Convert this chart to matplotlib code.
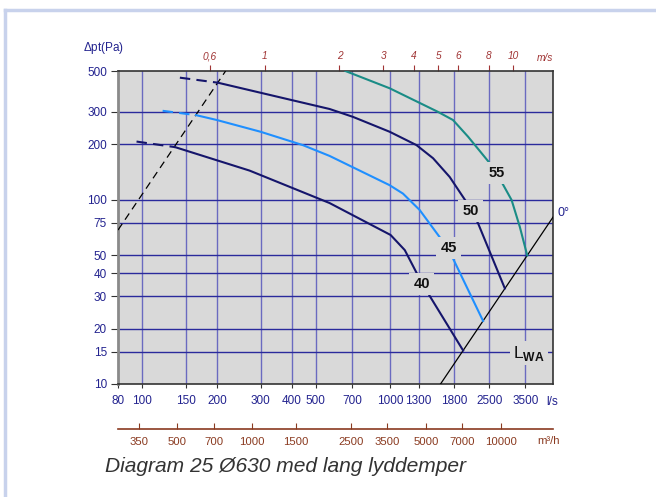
import matplotlib
matplotlib.use("Agg")
import matplotlib.pyplot as plt
from matplotlib.lines import Line2D
from matplotlib.ticker import FixedLocator, NullLocator, FixedFormatter

plt.rcParams['font.family'] = ['Liberation Sans', 'DejaVu Sans']
plt.rcParams['mathtext.fontset'] = 'custom'
plt.rcParams['mathtext.rm'] = 'Liberation Sans'
plt.rcParams['mathtext.bf'] = 'Liberation Sans:bold'

# --- data ---
# luftmengde l/s, trykkfall Pa
q40_dash = [95, 136]
dp40_dash = [207, 193]
q40 = [136, 271, 569, 1002, 1143, 1274, 1439, 1963]
dp40 = [193, 144, 96, 64.4, 53.3, 40.2, 30.1, 15.2]

q45_dash = [121, 165]
dp45_dash = [304, 288]
q45 = [165, 200, 300, 444, 569, 993, 1124, 1312, 1582, 1787, 2362]
dp45 = [288, 271, 234, 198, 173, 120, 108, 88, 62.5, 48, 22]

q50_dash = [142, 202]
dp50_dash = [460, 432]
q50 = [202, 300, 569, 706, 993, 1274, 1486, 1733, 2006, 2255, 2891]
dp50 = [432, 381, 311, 282, 234, 198, 168, 133, 99, 74.5, 33]

q55 = [659, 993, 1555, 1787, 2055, 2513, 2832, 3077, 3320, 3557]
dp55 = [500, 403, 300, 271, 220, 158, 122, 99.7, 71.4, 49.9]

q_sys = [80, 217]
dp_sys = [68.5, 500]
q_lwa = [1592, 4530]
dp_lwa = [10, 80.9]

x_ticks = [80, 100, 150, 200, 300, 400, 500, 700, 1000, 1300, 1800, 2500, 3500]
y_ticks = [10, 15, 20, 30, 40, 50, 75, 100, 200, 300, 500]
v_ticks = [0.6, 1, 2, 3, 4, 5, 6, 8, 10]
v_labels = ['0,6', '1', '2', '3', '4', '5', '6', '8', '10']
m3h_ticks = [350, 500, 700, 1000, 1500, 2500, 3500, 5000, 7000, 10000]

labels = ['40', '45', '50', '55']
label_q = [1337, 1718, 2108, 2684]
label_dp = [34.9, 54.7, 86.9, 139.7]

area = 3.14159 * 0.315 ** 2  # Ø630 kanal, m2

navy = '#15156b'
lblue = '#1f8fff'
teal = '#1a8c86'
tick_blue = '#23238f'
red = '#a03434'
brown = '#8a3a20'
bg = '#d9d9d9'

fig = plt.figure(figsize=(6.56, 4.97), dpi=100)
ax = fig.add_axes([118 / 656, 1 - 384 / 497, (553.3 - 118) / 656, (384 - 71) / 497])
ax.set_facecolor(bg)
ax.set_xscale('log')
ax.set_yscale('log')
ax.set_xlim(80, 4530)
ax.set_ylim(10, 500)

# rutenett
for x in x_ticks[1:]:
    ax.axvline(x, color='#6a6ac0', lw=1.0, zorder=1)
for y in y_ticks[1:-1]:
    ax.axhline(y, color='#2a2a9c', lw=1.0, zorder=1)

ax.xaxis.set_major_locator(FixedLocator(x_ticks))
ax.xaxis.set_major_formatter(FixedFormatter([str(v) for v in x_ticks]))
ax.xaxis.set_minor_locator(NullLocator())
ax.yaxis.set_major_locator(FixedLocator(y_ticks))
ax.yaxis.set_major_formatter(FixedFormatter([str(v) for v in y_ticks]))
ax.yaxis.set_minor_locator(NullLocator())
ax.tick_params(axis='x', colors='#333333', labelcolor=tick_blue, labelsize=8.5,
               length=3, pad=5)
ax.tick_params(axis='y', colors='#333333', labelcolor=tick_blue, labelsize=8.5,
               length=5, pad=3)
ax.spines['left'].set_color('#8a8a8a')
ax.spines['left'].set_linewidth(2)
for s in ['right', 'top', 'bottom']:
    ax.spines[s].set_color('#333333')
    ax.spines[s].set_linewidth(1.2)

# kurver
lw = 1.5
ax.plot(q_sys, dp_sys, color='black', lw=0.9, ls=(0, (6, 4)), zorder=3)
ax.plot(q_lwa, dp_lwa, color='black', lw=0.9, zorder=3)
ax.plot(q40_dash, dp40_dash, color=navy, lw=lw, ls=(0, (5, 3)), zorder=4)
ax.plot(q40, dp40, color=navy, lw=lw, zorder=4)
ax.plot(q45_dash, dp45_dash, color=lblue, lw=lw, ls=(0, (5, 3)), zorder=4)
ax.plot(q45, dp45, color=lblue, lw=lw, zorder=4)
ax.plot(q50_dash, dp50_dash, color=navy, lw=lw, ls=(0, (5, 3)), zorder=4)
ax.plot(q50, dp50, color=navy, lw=lw, zorder=4)
ax.plot(q55, dp55, color=teal, lw=lw, zorder=4)

for t, q, p in zip(labels, label_q, label_dp):
    ax.text(q, p, t, ha='center', va='center', fontsize=10.5, fontweight='bold',
            color='#111111', zorder=6,
            bbox=dict(facecolor=bg, edgecolor='none', pad=3))

ax.text(3614, 14.7, r'L$_{\mathbf{WA}}$', ha='center', va='center', fontsize=12.5,
        color='#111111', zorder=6, bbox=dict(facecolor=bg, edgecolor='none', pad=2))

# hastighet m/s øverst
top = ax.secondary_xaxis('top', functions=(lambda q: q / (area * 1000), lambda v: v * area * 1000))
top.xaxis.set_major_locator(FixedLocator(v_ticks))
top.xaxis.set_major_formatter(FixedFormatter(v_labels))
top.xaxis.set_minor_locator(NullLocator())
top.tick_params(colors=red, labelsize=7.3, length=4, pad=3)
for lab in top.get_xticklabels():
    lab.set_fontstyle('italic')
top.spines['top'].set_visible(False)

# m3/h nederst
m3h = ax.secondary_xaxis(-0.144, functions=(lambda q: q * 3.6, lambda m: m / 3.6))
m3h.xaxis.set_major_locator(FixedLocator(m3h_ticks))
m3h.xaxis.set_major_formatter(FixedFormatter([str(v) for v in m3h_ticks]))
m3h.xaxis.set_minor_locator(NullLocator())
m3h.tick_params(colors=brown, labelsize=8.2, length=4, direction='in', pad=6)
m3h.spines['bottom'].set_color(brown)
m3h.spines['bottom'].set_linewidth(1.2)

fig.text(83 / 656, 1 - 48 / 497, r'$\Delta$pt(Pa)', color=tick_blue, fontsize=8.5,
         ha='left', va='center')
fig.text(537 / 656, 1 - 58 / 497, 'm/s', color=red, fontsize=7.3, style='italic',
         ha='left', va='center')
fig.text(546 / 656, 1 - 402 / 497, 'l/s', color=tick_blue, fontsize=8.5,
         ha='left', va='center')
fig.text(537 / 656, 1 - 441 / 497, 'm³/h', color=brown, fontsize=8.2,
         ha='left', va='center')
fig.text(558 / 656, 1 - 213 / 497, '0°', color=tick_blue, fontsize=9,
         ha='left', va='center')
fig.text(105 / 656, 1 - 466 / 497, 'Diagram 25 Ø630 med lang lyddemper', color='#333333',
         fontsize=15.1, style='italic', ha='left', va='center')

# ramme
fig.add_artist(Line2D([5 / 656, 1], [1 - 10 / 497, 1 - 10 / 497], color='#c8d2ec', lw=2.5))
fig.add_artist(Line2D([5 / 656, 5 / 656], [0, 1 - 10 / 497], color='#c8d2ec', lw=2.5))

fig.savefig('out.png', dpi=100)
